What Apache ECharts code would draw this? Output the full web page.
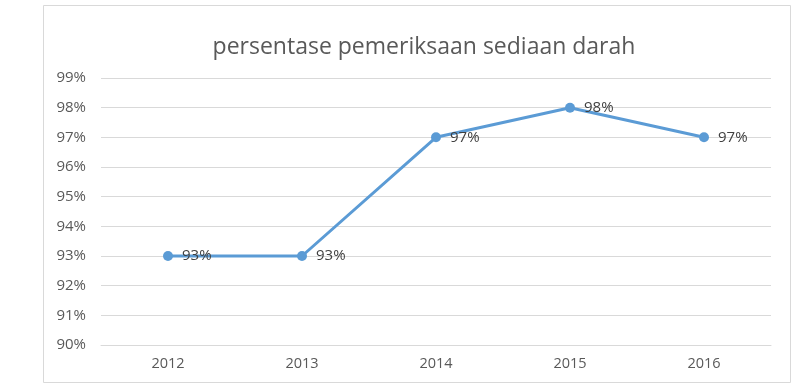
<!DOCTYPE html>
<html><head><meta charset="utf-8">
<script src="https://cdn.jsdelivr.net/npm/echarts@6/dist/echarts.min.js"></script>
<style>html,body{margin:0;padding:0;background:#fff}#c{width:807px;height:386px}</style>
</head><body><div id="c"></div>
<script>
var categories = ['2012','2013','2014','2015','2016'];
var values = [93, 93, 97, 98, 97];
var chartTitle = 'persentase pemeriksaan sediaan darah';
var chart = echarts.init(document.getElementById('c'));
chart.setOption({
  animation: false,
  backgroundColor: '#fff',
  graphic: [{type:'rect', shape:{x:43.5,y:5.5,width:747,height:377}, style:{fill:'none',stroke:'#d9d9d9',lineWidth:1}, silent:true, z:-1}],
  title: {text: chartTitle, left: 419, top: 31, textAlign: 'center',
    textStyle:{fontFamily:'Open Sans', fontWeight:'normal', fontSize:23, color:'#595959'}},
  grid: {left:101, right:36, top:78, bottom:41},
  xAxis: {type:'category', data: categories, boundaryGap:true,
    axisLine:{lineStyle:{color:'#d9d9d9'}}, axisTick:{show:false},
    axisLabel:{color:'#595959', fontSize:14.5, fontFamily:'Open Sans', margin:11}},
  yAxis: {type:'value', min:90, max:99, interval:1,
    axisLine:{show:false}, axisTick:{show:false},
    splitLine:{lineStyle:{color:'#d9d9d9'}},
    axisLabel:{color:'#595959', fontSize:15, fontFamily:'Open Sans', margin:15, formatter:'{value}%'}},
  series: [{type:'line', data: values, symbol:'circle', symbolSize:10,
    lineStyle:{color:'#5b9bd5', width:3}, itemStyle:{color:'#5b9bd5'},
    label:{show:true, position:'right', distance:9, formatter:'{c}%', color:'#404040', fontSize:15, fontFamily:'Open Sans'}}]
});
</script></body></html>
